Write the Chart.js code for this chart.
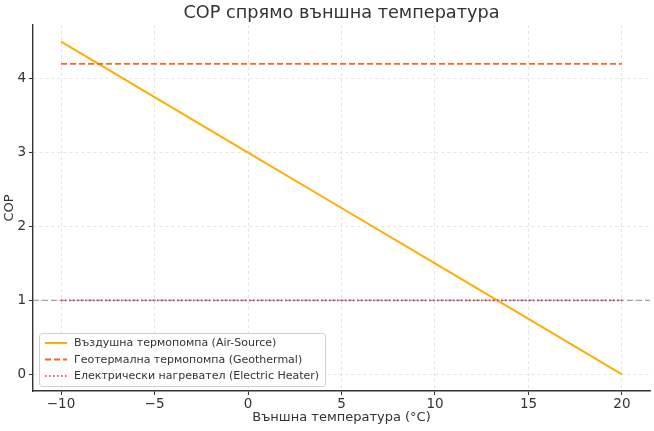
<!DOCTYPE html>
<html>
<head>
<meta charset="utf-8">
<script src="https://cdn.jsdelivr.net/npm/chart.js@4.4.1/dist/chart.umd.min.js"></script>
<style>
html,body{margin:0;padding:0;background:#fff;}
#wrap{width:654px;height:431px;position:relative;}
</style>
</head>
<body>
<div id="wrap"><canvas id="c" width="654" height="431"></canvas></div>
<script>
const titleText = 'COP спрямо външна температура';
const xTitle = 'Външна температура (°C)';
const yTitle = 'COP';
const temps = [-10, -5, 0, 5, 10, 15, 20];
const airSource = [4.5, 3.75, 3.0, 2.25, 1.5, 0.75, 0.0];
const geothermal = [4.2, 4.2, 4.2, 4.2, 4.2, 4.2, 4.2];
const electric = [1.0, 1.0, 1.0, 1.0, 1.0, 1.0, 1.0];
const refX = [-11.5, 21.5];
const refY = [1, 1];
const xTicks = [-10, -5, 0, 5, 10, 15, 20];
const yTicks = [0, 1, 2, 3, 4];
const seriesNames = ['Въздушна термопомпа (Air-Source)', 'Геотермална термопомпа (Geothermal)', 'Електрически нагревател (Electric Heater)'];

const FONT = "'DejaVu Sans', sans-serif";
const pts = (xs, ys) => xs.map((x, i) => ({x: x, y: ys[i]}));

const legendPlugin = {
  id: 'boxLegend',
  afterDatasetsDraw(chart) {
    const ctx = chart.ctx;
    const ca = chart.chartArea;
    const x0 = ca.left + 6, y0 = ca.bottom - 58, w = 286, h = 53;
    ctx.save();
    ctx.fillStyle = 'rgba(255,255,255,0.8)';
    ctx.strokeStyle = '#d0d0d0';
    ctx.lineWidth = 1;
    ctx.beginPath();
    if (ctx.roundRect) ctx.roundRect(x0 + 0.5, y0 + 0.5, w, h, 3); else ctx.rect(x0 + 0.5, y0 + 0.5, w, h);
    ctx.fill(); ctx.stroke();
    const items = chart.data.datasets.filter(d => !d.hideLegend);
    items.forEach((d, i) => {
      const yy = y0 + 10 + i * 16.5;
      ctx.strokeStyle = d.borderColor;
      ctx.lineWidth = d.borderWidth;
      ctx.setLineDash(d.borderDash || []);
      ctx.beginPath();
      ctx.moveTo(x0 + 6, yy); ctx.lineTo(x0 + 28, yy);
      ctx.stroke();
      ctx.setLineDash([]);
      ctx.fillStyle = '#333';
      ctx.font = '11px ' + FONT;
      ctx.textBaseline = 'middle';
      ctx.textAlign = 'left';
      ctx.fillText(d.label, x0 + 35, yy + 0.5);
    });
    ctx.restore();
  }
};

const textPlugin = {
  id: 'texts',
  afterDraw(chart) {
    const ctx = chart.ctx;
    const ca = chart.chartArea;
    ctx.save();
    ctx.fillStyle = '#333';
    ctx.textAlign = 'center';
    ctx.textBaseline = 'middle';
    ctx.font = '17.7px ' + FONT;
    ctx.fillText(titleText, (ca.left + ca.right) / 2, 13);
    ctx.font = '13px ' + FONT;
    ctx.fillText(xTitle, (ca.left + ca.right) / 2, 418);
    ctx.translate(10, (ca.top + ca.bottom) / 2);
    ctx.rotate(-Math.PI / 2);
    ctx.fillText(yTitle, 0, 0);
    ctx.restore();
  }
};

new Chart(document.getElementById('c'), {
  type: 'line',
  data: {
    datasets: [
      {label: 'ref', data: pts(refX, refY), borderColor: 'rgba(128,128,128,0.7)', borderWidth: 1.2, borderDash: [6, 3], pointRadius: 0, hideLegend: true, order: 5},
      {label: seriesNames[0], data: pts(temps, airSource), borderColor: '#FFAE00', borderWidth: 2, pointRadius: 0, order: 3},
      {label: seriesNames[1], data: pts(temps, geothermal), borderColor: '#FF6320', borderWidth: 1.8, borderDash: [6, 3], pointRadius: 0, order: 2},
      {label: seriesNames[2], data: pts(temps, electric), borderColor: '#E8254F', borderWidth: 1.6, borderDash: [1.5, 2.5], pointRadius: 0, order: 1}
    ]
  },
  options: {
    responsive: false,
    animation: false,
    layout: {padding: {left: 0, right: 4, top: 25, bottom: 0}},
    plugins: {legend: {display: false}, title: {display: false}, tooltip: {enabled: false}},
    scales: {
      x: {
        type: 'linear', min: -11.5, max: 21.5,
        afterBuildTicks: s => { s.ticks = xTicks.map(v => ({value: v})); },
        afterFit: s => { s.height = 40; },
        ticks: {color: '#333', font: {size: 13.5, family: FONT}, padding: 1, maxRotation: 0,
          callback: v => (v < 0 ? '\u2212' + Math.abs(v) : '' + v)},
        grid: {color: '#dedede', lineWidth: 0.8, tickLength: 4, tickColor: '#333', tickWidth: 1},
        border: {color: '#333', width: 1.4, dash: [3, 3]}
      },
      y: {
        type: 'linear', min: -0.225, max: 4.725,
        afterBuildTicks: s => { s.ticks = yTicks.map(v => ({value: v})); },
        afterFit: s => { s.width = 33; },
        ticks: {color: '#333', font: {size: 13.5, family: FONT}, padding: 3},
        grid: {color: '#dedede', lineWidth: 0.8, tickLength: 4, tickColor: '#333', tickWidth: 1},
        border: {color: '#333', width: 1.4, dash: [3, 3]}
      }
    }
  },
  plugins: [legendPlugin, textPlugin]
});
</script>
</body>
</html>
